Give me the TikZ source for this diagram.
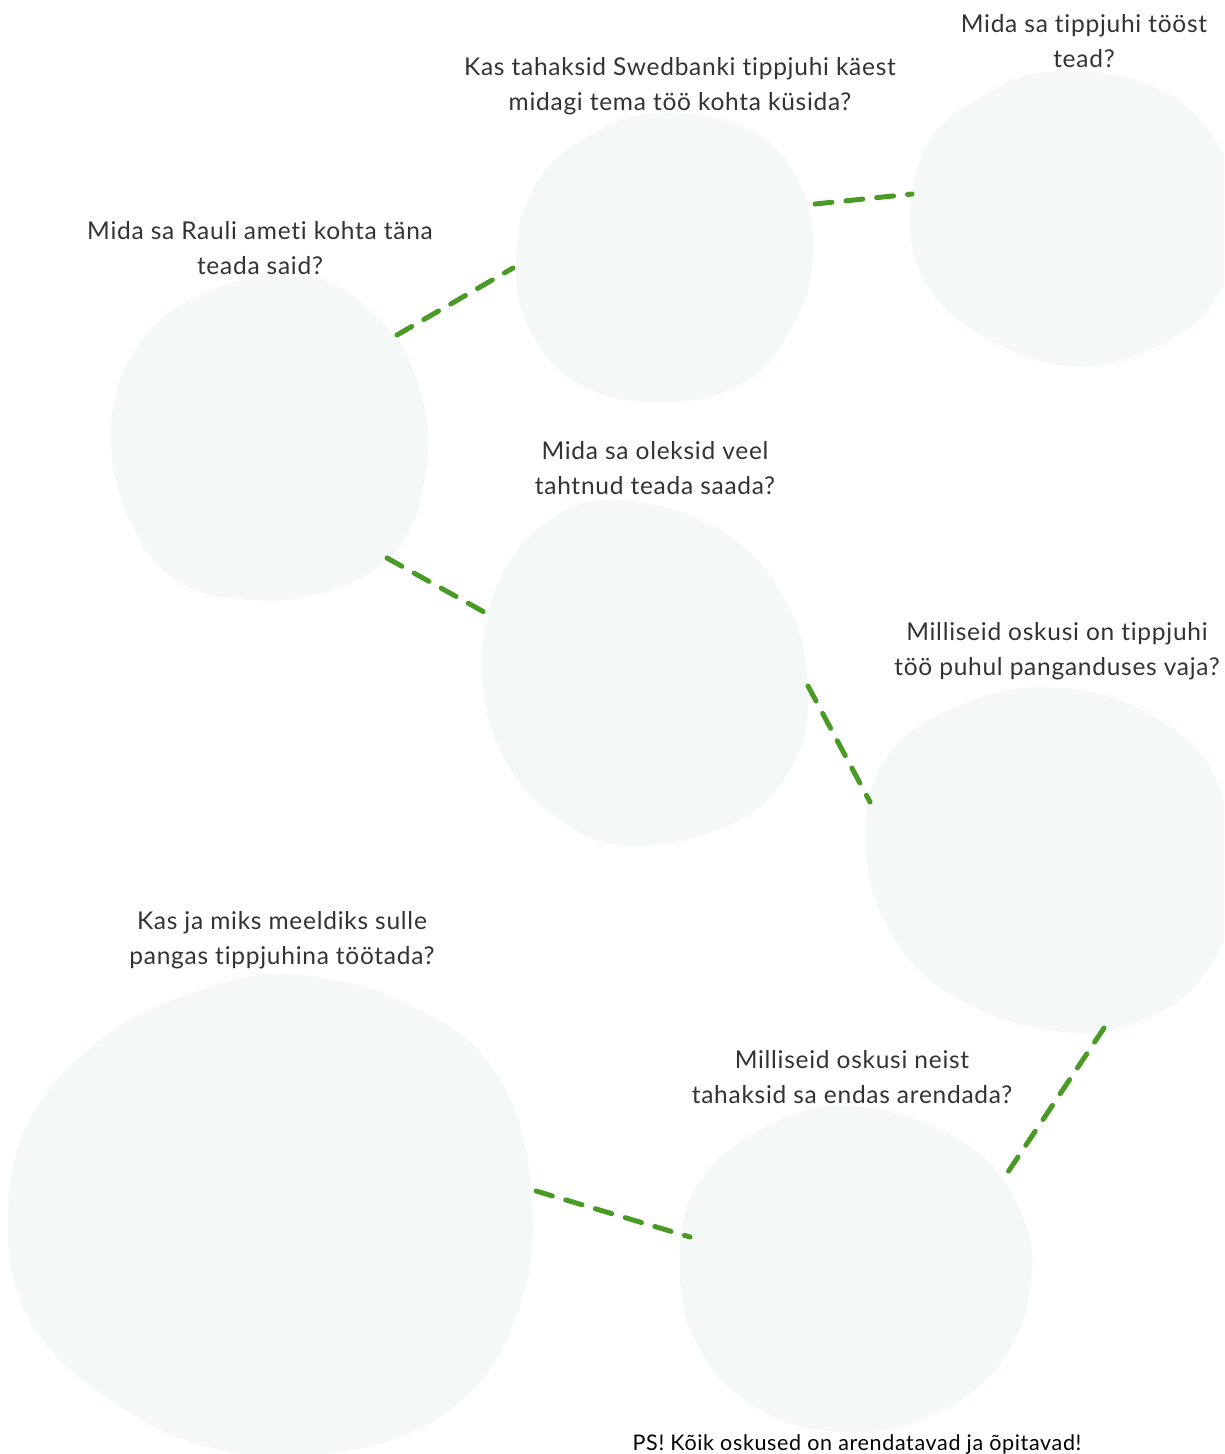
\documentclass[tikz,border=0pt]{standalone}
\usepackage{fontspec}
\setmainfont{Lato}[LetterSpace=3,Ligatures=NoCommon]
\definecolor{blobc}{HTML}{F4F8F6}
\definecolor{dashc}{HTML}{4A9B25}
\definecolor{txtc}{HTML}{333333}
\begin{document}
\begin{tikzpicture}[x=1pt,y=-1pt,
  blob/.style={fill=blobc,draw=none},
  conn/.style={draw=dashc,line width=5pt,line cap=round,dash pattern=on 17pt off 14pt},
  qtext/.style={text=txtc,align=center,font=\fontsize{24.5}{34.5}\selectfont,inner sep=0pt},
  pstext/.style={text=black,align=center,font=\fontsize{21.5}{22}\selectfont,inner sep=0pt}]
\useasboundingbox (0,0) rectangle (1224,1454);
\clip (0,0) rectangle (1224,1454);
% blobs
\fill[blob] plot[smooth cycle,tension=0.7] coordinates {(300,275) (380,320) (420,390) (426,470) (397,550) (330,590) (250,600) (175,580) (130,520) (111,440) (130,360) (190,300)};
\fill[blob] plot[smooth cycle,tension=0.7] coordinates {(660,113) (750,130) (800,185) (813,260) (790,330) (740,385) (660,402) (580,385) (530,330) (516,260) (535,185) (590,135)};
\fill[blob] plot[smooth cycle,tension=0.7] coordinates {(1050,72) (1150,85) (1215,140) (1235,220) (1215,300) (1150,350) (1070,366) (990,340) (930,290) (910,220) (930,140) (985,95)};
\fill[blob] plot[smooth cycle,tension=0.7] coordinates {(620,500) (720,530) (785,600) (808,690) (790,770) (730,825) (630,846) (560,820) (505,760) (482,670) (500,580) (550,520)};
\fill[blob] plot[smooth cycle,tension=0.7] coordinates {(1060,688) (1160,720) (1220,790) (1232,900) (1200,980) (1130,1025) (1050,1030) (960,1000) (895,940) (866,850) (885,760) (960,705)};
\fill[blob] plot[smooth cycle,tension=0.7] coordinates {(300,975) (420,1010) (500,1080) (532,1200) (515,1320) (450,1410) (340,1452) (220,1450) (110,1400) (30,1320) (8,1220) (30,1120) (100,1040) (200,990)};
\fill[blob] plot[smooth cycle,tension=0.7] coordinates {(850,1106) (960,1140) (1020,1210) (1030,1290) (995,1370) (920,1420) (840,1432) (760,1410) (700,1350) (680,1270) (695,1190) (760,1130)};
% connector endpoints
\coordinate (a1) at (397,335); \coordinate (b1) at (513,268);
\coordinate (a2) at (815,204); \coordinate (b2) at (912,194);
\coordinate (a3) at (387,558); \coordinate (b3) at (484,612);
\coordinate (a4) at (808,686); \coordinate (b4) at (870,802);
\coordinate (a5) at (1104,1028); \coordinate (b5) at (1008,1172);
\coordinate (a6) at (536,1191); \coordinate (b6) at (690,1237);
\draw[conn] (a1) -- (b1);
\draw[conn] (a2) -- (b2);
\draw[conn] (a3) -- (b3);
\draw[conn] (a4) -- (b4);
\draw[conn] (a5) -- (b5);
\draw[conn] (a6) -- (b6);
% texts
\node[qtext] (t1) at (260,248) {Mida sa Rauli ameti kohta täna\\teada said?};
\node[qtext] (t2) at (680,86) {Kas tahaksid Swedbanki tippjuhi käest\\midagi tema töö kohta küsida?};
\node[qtext] (t3) at (1084,41) {Mida sa tippjuhi tööst\\tead?};
\node[qtext] (t4) at (655,468) {Mida sa oleksid veel\\tahtnud teada saada?};
\node[qtext] (t5) at (1057,651) {Milliseid oskusi on tippjuhi\\töö puhul panganduses vaja?};
\node[qtext] (t6) at (282,940) {Kas ja miks meeldiks sulle\\pangas tippjuhina töötada?};
\node[qtext] (t7) at (852,1077) {Milliseid oskusi neist\\tahaksid sa endas arendada?};
\node[pstext] (t8) at (857,1445) {PS! Kõik oskused on arendatavad ja õpitavad!};
\end{tikzpicture}
\end{document}
